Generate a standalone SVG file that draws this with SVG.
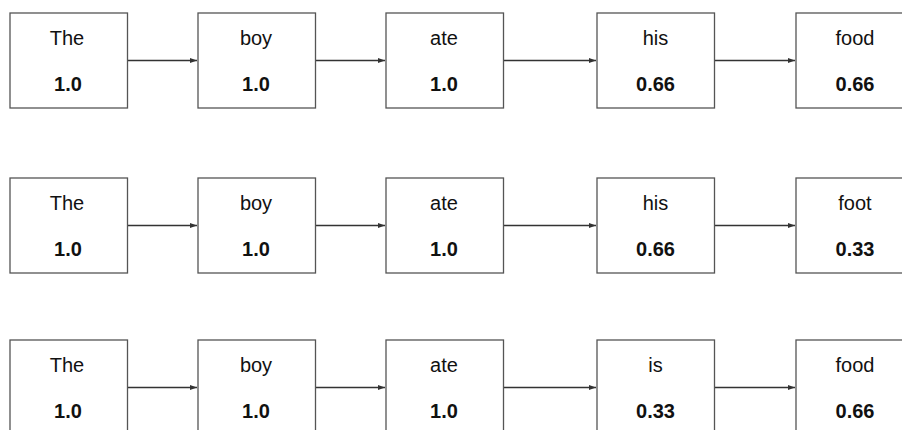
<svg xmlns="http://www.w3.org/2000/svg" width="902" height="430" viewBox="0 0 902 430">
<style>
.box{fill:#fff;stroke:#555;stroke-width:1.3}
.w{font-family:"Liberation Sans",Arial,sans-serif;font-size:20px;fill:#111;text-anchor:middle}
.n{font-family:"Liberation Sans",Arial,sans-serif;font-size:20px;font-weight:bold;fill:#111;text-anchor:middle}
.c{stroke:#333;stroke-width:1.3;fill:none;marker-end:url(#ah)}
</style>
<defs>
<marker id="ah" markerWidth="8" markerHeight="6" refX="7" refY="3" orient="auto" markerUnits="userSpaceOnUse">
<path d="M0,0.5 L7,3 L0,5.5 Z" fill="#333"/>
</marker>
</defs>
<rect width="902" height="430" fill="#fff"/>
<g id="connectors">
<line class="c" x1="127.5" y1="60.5" x2="197" y2="60.5"/>
<line class="c" x1="315.5" y1="60.5" x2="385" y2="60.5"/>
<line class="c" x1="503.5" y1="60.5" x2="596" y2="60.5"/>
<line class="c" x1="714.5" y1="60.5" x2="795" y2="60.5"/>
<line class="c" x1="127.5" y1="225.5" x2="197" y2="225.5"/>
<line class="c" x1="315.5" y1="225.5" x2="385" y2="225.5"/>
<line class="c" x1="503.5" y1="225.5" x2="596" y2="225.5"/>
<line class="c" x1="714.5" y1="225.5" x2="795" y2="225.5"/>
<line class="c" x1="127.5" y1="387.5" x2="197" y2="387.5"/>
<line class="c" x1="315.5" y1="387.5" x2="385" y2="387.5"/>
<line class="c" x1="503.5" y1="387.5" x2="596" y2="387.5"/>
<line class="c" x1="714.5" y1="387.5" x2="795" y2="387.5"/>
</g>
<g id="r1n1"><rect class="box" x="10" y="13" width="117.5" height="95"/><text class="w" x="67" y="45">The</text><text class="n" x="68" y="91">1.0</text></g>
<g id="r1n2"><rect class="box" x="198" y="13" width="117.5" height="95"/><text class="w" x="256" y="45">boy</text><text class="n" x="256" y="91">1.0</text></g>
<g id="r1n3"><rect class="box" x="386" y="13" width="117.5" height="95"/><text class="w" x="444" y="45">ate</text><text class="n" x="444" y="91">1.0</text></g>
<g id="r1n4"><rect class="box" x="597" y="13" width="117.5" height="95"/><text class="w" x="655.5" y="45">his</text><text class="n" x="655.5" y="91">0.66</text></g>
<g id="r1n5"><rect class="box" x="796" y="13" width="117.5" height="95"/><text class="w" x="855" y="45">food</text><text class="n" x="855" y="91">0.66</text></g>
<g id="r2n1"><rect class="box" x="10" y="178" width="117.5" height="95"/><text class="w" x="67" y="210">The</text><text class="n" x="68" y="256">1.0</text></g>
<g id="r2n2"><rect class="box" x="198" y="178" width="117.5" height="95"/><text class="w" x="256" y="210">boy</text><text class="n" x="256" y="256">1.0</text></g>
<g id="r2n3"><rect class="box" x="386" y="178" width="117.5" height="95"/><text class="w" x="444" y="210">ate</text><text class="n" x="444" y="256">1.0</text></g>
<g id="r2n4"><rect class="box" x="597" y="178" width="117.5" height="95"/><text class="w" x="655.5" y="210">his</text><text class="n" x="655.5" y="256">0.66</text></g>
<g id="r2n5"><rect class="box" x="796" y="178" width="117.5" height="95"/><text class="w" x="855" y="210">foot</text><text class="n" x="855" y="256">0.33</text></g>
<g id="r3n1"><rect class="box" x="10" y="340" width="117.5" height="95"/><text class="w" x="67" y="372">The</text><text class="n" x="68" y="418">1.0</text></g>
<g id="r3n2"><rect class="box" x="198" y="340" width="117.5" height="95"/><text class="w" x="256" y="372">boy</text><text class="n" x="256" y="418">1.0</text></g>
<g id="r3n3"><rect class="box" x="386" y="340" width="117.5" height="95"/><text class="w" x="444" y="372">ate</text><text class="n" x="444" y="418">1.0</text></g>
<g id="r3n4"><rect class="box" x="597" y="340" width="117.5" height="95"/><text class="w" x="655.5" y="372">is</text><text class="n" x="655.5" y="418">0.33</text></g>
<g id="r3n5"><rect class="box" x="796" y="340" width="117.5" height="95"/><text class="w" x="855" y="372">food</text><text class="n" x="855" y="418">0.66</text></g>
</svg>
